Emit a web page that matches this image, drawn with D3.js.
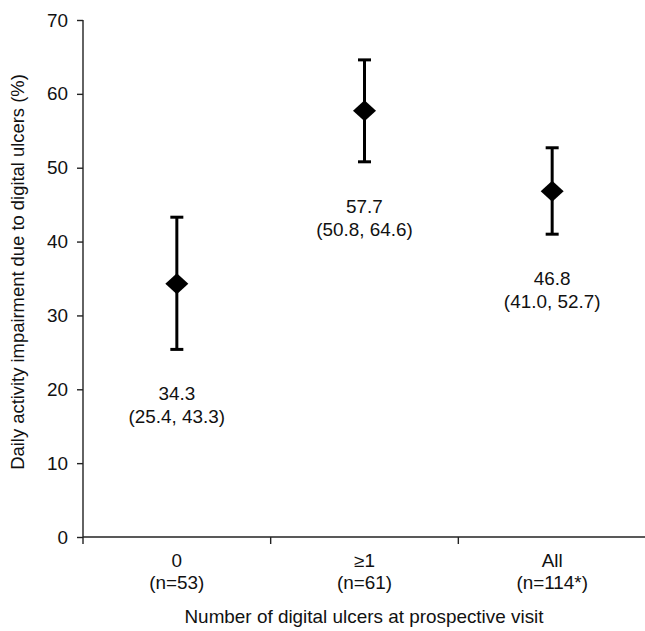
<!DOCTYPE html>
<html>
<head>
<meta charset="utf-8">
<script src="https://cdn.jsdelivr.net/npm/d3@7"></script>
<style>
  body { margin: 0; background: #fff; }
  text { font-family: "Liberation Sans", Arial, sans-serif; fill: #111; }
</style>
</head>
<body>
<div id="chart"></div>
<script>
// Data
var groups = ["0", "\u22651", "All"];
var groupNotes = ["(n=53)", "(n=61)", "(n=114*)"];
var means = [34.3, 57.7, 46.8];
var lower = [25.4, 50.8, 41.0];
var upper = [43.3, 64.6, 52.7];
var yTicks = [0, 10, 20, 30, 40, 50, 60, 70];

var svgWidth = 645;
var svgHeight = 631;

var margin = { top: 20, right: 0, bottom: 94, left: 83 };
var width = 563;
var height = svgHeight - margin.top - margin.bottom;

// text in the figure is slightly wider than tall
var stretch = 1.08;
var fontSize = "17.5px";

var svg = d3.select("#chart")
    .append("svg")
    .attr("width", svgWidth)
    .attr("height", svgHeight);

var chartGroup = svg.append("g").attr("transform", `translate(${margin.left}, ${margin.top})`);

var xScale = d3.scaleBand()
    .domain(groups)
    .range([0, width]);

var yScale = d3.scaleLinear()
    .domain([0, 70])
    .range([height, 0]);

// helper: horizontal label at (x, y) with stretch
function label(sel, x, y) {
    return sel.attr("text-anchor", "middle")
        .attr("x", 0).attr("y", 0)
        .attr("transform", (d, i) => `translate(${x(d, i)}, ${y(d, i)}) scale(${stretch}, 1)`)
        .style("font-size", fontSize);
}

// y axis
var leftAxis = d3.axisLeft(yScale).tickValues(yTicks).tickSize(6).tickPadding(5);
var yAxis = chartGroup.append("g").call(leftAxis);
yAxis.select(".domain").attr("d", `M0,0V${height + 7}`);
yAxis.selectAll("path, line").attr("stroke", "#222").attr("stroke-width", 1.4);
yAxis.selectAll("text")
    .attr("x", 0).attr("dy", null).attr("y", 0)
    .attr("transform", `translate(-15, 6) scale(${stretch}, 1)`)
    .style("font-size", fontSize)
    .style("font-family", "'Liberation Sans', Arial, sans-serif")
    .attr("fill", "#111");

// x axis, ticks between groups
var xAxis = chartGroup.append("g").attr("transform", `translate(0, ${height})`);
xAxis.append("line")
    .attr("x1", 0).attr("x2", width)
    .attr("stroke", "#222").attr("stroke-width", 1.4);
xAxis.selectAll(".sep")
    .data(groups.slice(1))
    .enter()
    .append("line")
    .attr("x1", d => xScale(d)).attr("x2", d => xScale(d))
    .attr("y1", 0).attr("y2", 7)
    .attr("stroke", "#222").attr("stroke-width", 1.4);

var cx = d => xScale(d) + xScale.bandwidth() / 2;

label(xAxis.selectAll(".cat").data(groups).enter().append("text"), cx, () => 30)
    .text(d => d);

label(xAxis.selectAll(".note").data(groups).enter().append("text"), cx, () => 52)
    .text((d, i) => groupNotes[i]);

// axis titles
label(chartGroup.append("text").datum(0), () => 281, () => height + 86)
    .text("Number of digital ulcers at prospective visit");

chartGroup.append("text")
    .attr("transform", "rotate(-90)")
    .attr("text-anchor", "middle")
    .attr("x", -252)
    .attr("y", -59)
    .style("font-size", "18.4px")
    .text("Daily activity impairment due to digital ulcers (%)");

// error bars
var bars = chartGroup.selectAll(".bar")
    .data(groups)
    .enter()
    .append("g");

bars.append("line")
    .attr("x1", cx).attr("x2", cx)
    .attr("y1", (d, i) => yScale(lower[i]))
    .attr("y2", (d, i) => yScale(upper[i]))
    .attr("stroke", "#000").attr("stroke-width", 3);

bars.append("line")
    .attr("x1", d => cx(d) - 6.5).attr("x2", d => cx(d) + 6.5)
    .attr("y1", (d, i) => yScale(upper[i]))
    .attr("y2", (d, i) => yScale(upper[i]))
    .attr("stroke", "#000").attr("stroke-width", 3);

bars.append("line")
    .attr("x1", d => cx(d) - 6.5).attr("x2", d => cx(d) + 6.5)
    .attr("y1", (d, i) => yScale(lower[i]))
    .attr("y2", (d, i) => yScale(lower[i]))
    .attr("stroke", "#000").attr("stroke-width", 3);

// diamond markers
bars.append("path")
    .attr("d", "M0,-10.5L11.5,0L0,10.5L-11.5,0Z")
    .attr("transform", (d, i) => `translate(${cx(d)}, ${yScale(means[i])})`)
    .attr("fill", "#000");

// value labels
label(bars.append("text"), cx, (d, i) => yScale(lower[i]) + 51)
    .text((d, i) => means[i].toFixed(1));

label(bars.append("text"), cx, (d, i) => yScale(lower[i]) + 74)
    .text((d, i) => `(${lower[i].toFixed(1)}, ${upper[i].toFixed(1)})`);
</script>
</body>
</html>
